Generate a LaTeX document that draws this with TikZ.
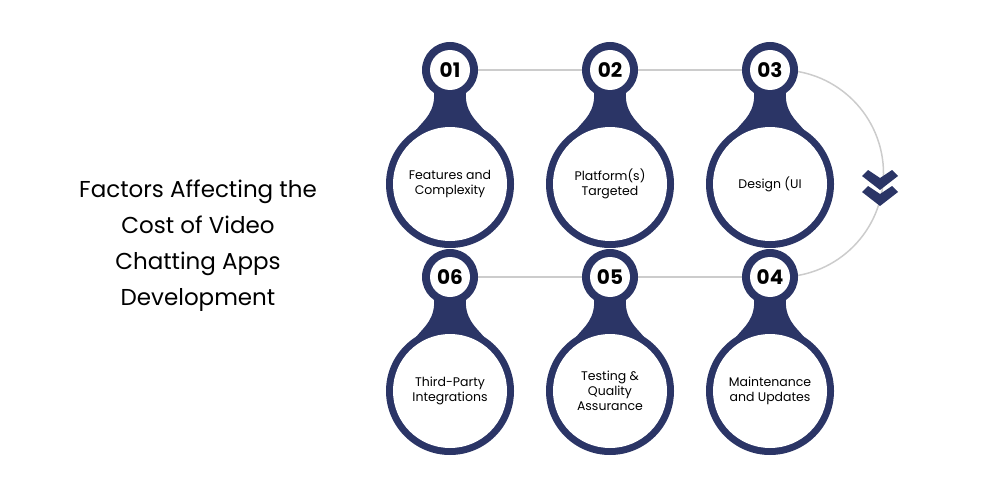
\documentclass[tikz,border=0pt]{standalone}
\usepackage{fontspec}
\setmainfont{Poppins}
\definecolor{navy}{HTML}{2B3566}
\definecolor{linegray}{HTML}{CCCCCC}
\begin{document}
\begin{tikzpicture}[x=1pt,y=-1pt,
  bignum/.style={circle,fill=white,minimum size=40pt,inner sep=0pt,font=\fontsize{20}{20}\selectfont\bfseries},
  bigtxt/.style={circle,fill=white,minimum size=114pt,inner sep=0pt,align=center,font=\fontsize{12.5}{15}\selectfont},
  conn/.style={draw=linegray,line width=1.5pt}]
\useasboundingbox (0,0) rectangle (1000,500);
% gray connectors
\draw[conn] (450,70) -- (770,70);
\draw[conn] (450,277) -- (770,277);
\draw[conn] (770,70) -- (780,70) arc (-90:90:103.5) -- (770,277);
% chevrons
\foreach \y in {170,186}
  \fill[navy] (868,\y) -- (880,\y+8) -- (892,\y) -- (898,\y+6) -- (880,\y+20) -- (862,\y+6) -- cycle;
% pins
\foreach \x/\y/\n/\t [count=\i] in {450/70/01/Features and\\Complexity, 610/70/02/Platform(s)\\Targeted, 770/70/03/Design (UI/UX),
  770/277/04/Maintenance\\and Updates, 610/277/05/Testing \&\\Quality\\Assurance, 450/277/06/Third-Party\\Integrations}{
  \fill[navy] (\x,\y) circle (28);
  \fill[navy] (\x,\y+114) circle (64);
  \fill[navy] (\x-16,\y+20) .. controls (\x-14,\y+42) and (\x-26,\y+50) .. (\x-34,\y+60)
    -- (\x+34,\y+60) .. controls (\x+26,\y+50) and (\x+14,\y+42) .. (\x+16,\y+20) -- cycle;
  \node[bignum] (num\i) at (\x,\y) {\n};
  \node[bigtxt] (txt\i) at (\x,\y+114) {\t};
}
\node[align=center,font=\fontsize{23}{36}\selectfont] (title) at (198,246)
  {Factors Affecting the\\Cost of Video\\Chatting Apps\\Development};
\end{tikzpicture}
\end{document}
